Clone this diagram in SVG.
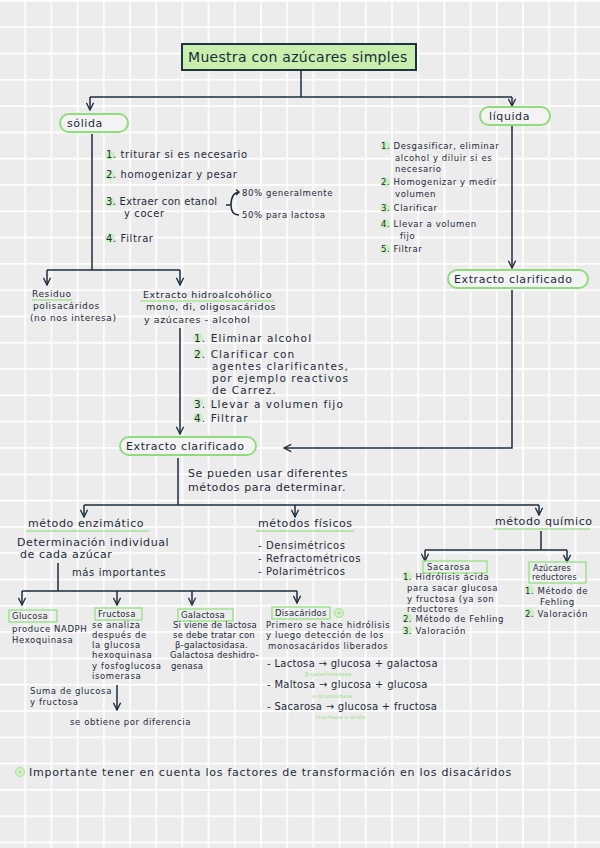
<svg xmlns="http://www.w3.org/2000/svg" width="600" height="848" viewBox="0 0 600 848">
<defs>
<pattern id="grid" x="0" y="0" width="26.2" height="26.3" patternUnits="userSpaceOnUse">
<rect width="26.2" height="26.3" fill="#ececec"/>
<path d="M25.2,0 V26.3 M0,0.8 H26.2" stroke="#ffffff" stroke-width="1.6" fill="none"/>
</pattern>
<marker id="arr" viewBox="0 0 10 10" refX="9" refY="5" markerWidth="9" markerHeight="9" markerUnits="userSpaceOnUse" orient="auto">
<path d="M1,1 L9,5 L1,9" fill="none" stroke="#1d2d3c" stroke-width="1.5"/>
</marker>
<style>
text{font-family:"DejaVu Sans","Liberation Sans",sans-serif;fill:#1c2b3a;letter-spacing:0.6px}
.ln{fill:none;stroke:#1d2d3c;stroke-width:1.5}
.ar{fill:none;stroke:#1d2d3c;stroke-width:1.5;marker-end:url(#arr)}
.pill{fill:#f3f3f3;stroke:#8fdc7c;stroke-width:2}
.box{fill:none;stroke:#9fe38e;stroke-width:1.5}
.ul{stroke:#a8e29a;stroke-width:1.5;fill:none}
.num{fill:#cdeec2}
.t13{font-size:14px;letter-spacing:0.3px}
.t11{font-size:11px}
.t115{font-size:10.5px;letter-spacing:1.1px}
.t10{font-size:10px}
.t95{font-size:9.5px}
.t9{font-size:9px}
.t85{font-size:8.5px}
.t8{font-size:8.5px}
.tiny{font-size:5.5px;fill:#9fe38e;letter-spacing:0.2px}
</style>
</defs>
<rect width="600" height="848" fill="url(#grid)"/>

<g id="connectors">
<path class="ln" d="M301,70 V97 M90,97 H512"/>
<path class="ar" d="M90,97 V110"/>
<path class="ar" d="M512,97 V106"/>
<path class="ln" d="M92,134 V270 M47,270 H180"/>
<path class="ar" d="M47,270 V285"/>
<path class="ar" d="M180,270 V285"/>
<path class="ar" d="M512,126 V268"/>
<path class="ar" d="M512,290 V448 H284"/>
<path class="ar" d="M180,328 V434"/>
<path class="ln" d="M178,458 V505 M84,505 H539"/>
<path class="ar" d="M84,505 V517"/>
<path class="ar" d="M295,505 V517"/>
<path class="ar" d="M539,505 V515"/>
<path class="ln" d="M541,531 V550 M425,550 H567"/>
<path class="ar" d="M425,550 V561"/>
<path class="ar" d="M567,550 V562"/>
<path class="ln" d="M58,563 V591 M22,591 H297"/>
<path class="ar" d="M22,591 V605"/>
<path class="ar" d="M117,591 V605"/>
<path class="ar" d="M192,591 V605"/>
<path class="ar" d="M297,591 V603"/>
<path class="ar" d="M117,685 V710"/>
<path class="ln" d="M226,205 H231 M231,205 Q231,193 239,192 M231,205 Q231,215 239,215"/>
<path class="ln" d="M236,189.5 L239,192 L236,195"/>
</g>

<g id="title">
<rect x="182" y="44" width="234" height="26" fill="#c8efae" stroke="#1f3341" stroke-width="2"/>
<text class="t13" x="188" y="62">Muestra con azúcares simples</text>
</g>

<g id="solida">
<rect class="pill" x="60" y="114" width="68" height="18" rx="9"/>
<text class="t11" x="67" y="127">sólida</text>
</g>

<g id="liquida">
<rect class="pill" x="480" y="107" width="70" height="18" rx="9"/>
<text class="t11" x="489" y="120">líquida</text>
</g>

<g id="pasos-solida">
<circle class="num" cx="110" cy="155" r="5"/>
<circle class="num" cx="110" cy="175" r="5"/>
<circle class="num" cx="110" cy="202" r="5"/>
<circle class="num" cx="110" cy="238" r="5"/>
<text class="t10" x="106" y="158">1. triturar si es necesario</text>
<text class="t10" x="106" y="178">2. homogenizar y pesar</text>
<text class="t10" x="106" y="205" style="letter-spacing:0.3px">3. Extraer con etanol</text>
<text class="t10" x="124" y="217">y cocer</text>
<text class="t10" x="106" y="242">4. Filtrar</text>
<text class="t8" x="242" y="196">80% generalmente</text>
<text class="t8" x="242" y="218">50% para lactosa</text>
</g>

<g id="pasos-liquida">
<circle class="num" cx="385" cy="146" r="5"/>
<circle class="num" cx="385" cy="182" r="5"/>
<circle class="num" cx="385" cy="208" r="5"/>
<circle class="num" cx="385" cy="224" r="5"/>
<circle class="num" cx="385" cy="249" r="5"/>
<text class="t85" x="381" y="149">1. Desgasificar, eliminar</text>
<text class="t85" x="395" y="161">alcohol y diluir si es</text>
<text class="t85" x="395" y="172">necesario</text>
<text class="t85" x="381" y="185">2. Homogenizar y medir</text>
<text class="t85" x="395" y="197">volumen</text>
<text class="t85" x="381" y="211">3. Clarificar</text>
<text class="t85" x="381" y="227">4. Llevar a volumen</text>
<text class="t85" x="400" y="239">fijo</text>
<text class="t85" x="381" y="252">5. Filtrar</text>
</g>

<g id="extracto-clarificado-liquida">
<rect class="pill" x="448" y="270" width="140" height="18" rx="9"/>
<text class="t11" x="454" y="283">Extracto clarificado</text>
</g>

<g id="residuo">
<text class="t9" x="32" y="297">Residuo</text>
<path class="ul" d="M32,300 H72"/>
<text class="t9" x="33" y="309">polisacáridos</text>
<text class="t9" x="30" y="321">(no nos interesa)</text>
</g>

<g id="extracto-hidroalcoholico">
<text class="t95" x="143" y="298">Extracto hidroalcohólico</text>
<path class="ul" d="M140,301 H274"/>
<text class="t95" x="146" y="310">mono, di, oligosacáridos</text>
<text class="t95" x="144" y="323">y azúcares - alcohol</text>
</g>

<g id="pasos-extracto">
<circle class="num" cx="198" cy="338" r="5"/>
<circle class="num" cx="198" cy="354" r="5"/>
<circle class="num" cx="198" cy="403" r="5"/>
<circle class="num" cx="198" cy="418" r="5"/>
<text class="t115" x="194" y="342">1. Eliminar alcohol</text>
<text class="t115" x="194" y="358">2. Clarificar con</text>
<text class="t115" x="212" y="370">agentes clarificantes,</text>
<text class="t115" x="212" y="382">por ejemplo reactivos</text>
<text class="t115" x="212" y="394">de Carrez.</text>
<text class="t115" x="194" y="408">3. Llevar a volumen fijo</text>
<text class="t115" x="194" y="422">4. Filtrar</text>
</g>

<g id="extracto-clarificado">
<rect class="pill" x="120" y="437" width="136" height="18" rx="9"/>
<text class="t11" x="126" y="450">Extracto clarificado</text>
<text class="t11" x="188" y="477">Se pueden usar diferentes</text>
<text class="t11" x="188" y="491">métodos para determinar.</text>
</g>

<g id="metodo-enzimatico">
<text class="t11" x="28" y="527">método enzimático</text>
<path class="ul" d="M26,531 H149"/>
<text class="t11" x="17" y="546">Determinación individual</text>
<text class="t11" x="20" y="558">de cada azúcar</text>
<text class="t10" x="72" y="576">más importantes</text>
</g>

<g id="metodos-fisicos">
<text class="t11" x="258" y="527">métodos físicos</text>
<path class="ul" d="M256,531 H354"/>
<text class="t10" x="258" y="549">- Densimétricos</text>
<text class="t10" x="258" y="562">- Refractométricos</text>
<text class="t10" x="258" y="575">- Polarimétricos</text>
</g>

<g id="metodo-quimico">
<text class="t11" x="495" y="525">método químico</text>
<path class="ul" d="M493,529 H590"/>
</g>

<g id="sacarosa">
<rect class="box" x="423" y="561" width="64" height="12"/>
<text class="t85" x="427" y="570">Sacarosa</text>
<circle class="num" cx="407" cy="576" r="5"/>
<circle class="num" cx="407" cy="618" r="5"/>
<circle class="num" cx="407" cy="630" r="5"/>
<text class="t85" x="403" y="580">1. Hidrólisis ácida</text>
<text class="t85" x="407" y="591">para sacar glucosa</text>
<text class="t85" x="407" y="602">y fructosa (ya son</text>
<text class="t85" x="407" y="612">reductores</text>
<text class="t85" x="403" y="622">2. Método de Fehling</text>
<text class="t85" x="403" y="634">3. Valoración</text>
</g>

<g id="azucares-reductores">
<rect class="box" x="529" y="562" width="57" height="21"/>
<text class="t8" x="533" y="571" style="font-size:8px;letter-spacing:0.2px">Azúcares</text>
<text class="t8" x="532" y="580" style="font-size:8px;letter-spacing:0.2px">reductores</text>
<circle class="num" cx="529" cy="590" r="5"/>
<circle class="num" cx="529" cy="613" r="5"/>
<text class="t85" x="525" y="594">1. Método de</text>
<text class="t85" x="540" y="605">Fehling</text>
<text class="t85" x="525" y="617">2. Valoración</text>
</g>

<g id="glucosa">
<rect class="box" x="9" y="610" width="48" height="12"/>
<text class="t8" x="12" y="619" style="letter-spacing:0.3px">Glucosa</text>
<text class="t8" x="12" y="632">produce NADPH</text>
<text class="t8" x="12" y="643">Hexoquinasa</text>
</g>

<g id="fructosa">
<rect class="box" x="95" y="608" width="47" height="12"/>
<text class="t8" x="98" y="617" style="letter-spacing:0.2px">Fructosa</text>
<text class="t8" x="92" y="628">se analiza</text>
<text class="t8" x="92" y="638">después de</text>
<text class="t8" x="92" y="648">la glucosa</text>
<text class="t8" x="92" y="658">hexoquinasa</text>
<text class="t8" x="92" y="669">y fosfoglucosa</text>
<text class="t8" x="92" y="679">isomerasa</text>
<text class="t8" x="30" y="694">Suma de glucosa</text>
<text class="t8" x="30" y="705">y fructosa</text>
<text class="t8" x="70" y="725">se obtiene por diferencia</text>
</g>

<g id="galactosa">
<rect class="box" x="178" y="609" width="55" height="12"/>
<text class="t8" x="181" y="618" style="letter-spacing:0.2px">Galactosa</text>
<text class="t8" x="173" y="628" style="letter-spacing:0.2px">Si viene de lactosa</text>
<text class="t8" x="173" y="638" style="letter-spacing:0.2px">se debe tratar con</text>
<text class="t8" x="175" y="648" style="letter-spacing:0.2px">β-galactosidasa.</text>
<text class="t8" x="170" y="658" style="letter-spacing:0.2px">Galactosa deshidro-</text>
<text class="t8" x="171" y="669" style="letter-spacing:0.2px">genasa</text>
</g>

<g id="disacaridos">
<rect class="box" x="272" y="607" width="58" height="12"/>
<text class="t8" x="275" y="616" style="letter-spacing:0.2px">Disacáridos</text>
<circle cx="339" cy="613" r="4.5" fill="#d3f0c8" stroke="#9fe38e" stroke-width="1"/>
<text x="339" y="615.5" font-size="6" text-anchor="middle" style="fill:#7fcf6c;letter-spacing:0">*</text>
<text class="t8" x="266" y="628">Primero se hace hidrólisis</text>
<text class="t8" x="266" y="638">y luego detección de los</text>
<text class="t8" x="268" y="649">monosacáridos liberados</text>
<text class="t10" x="267" y="667" style="letter-spacing:0.3px">- Lactosa → glucosa + galactosa</text>
<text class="tiny" x="305" y="676">β-galactosidasa</text>
<text class="t10" x="267" y="688" style="letter-spacing:0.3px">- Maltosa → glucosa + glucosa</text>
<text class="tiny" x="312" y="698">α-glucosidasa</text>
<text class="t10" x="267" y="710" style="letter-spacing:0.3px">- Sacarosa → glucosa + fructosa</text>
<text class="tiny" x="315" y="719">invertasa o ácido</text>
</g>

<g id="nota">
<circle cx="20" cy="772" r="4.5" fill="#d3f0c8" stroke="#9fe38e" stroke-width="1"/>
<text x="20" y="774.5" font-size="6" text-anchor="middle" style="fill:#7fcf6c;letter-spacing:0">*</text>
<text class="t11" x="29" y="776" style="letter-spacing:0.75px">Importante tener en cuenta los factores de transformación en los disacáridos</text>
</g>
</svg>
